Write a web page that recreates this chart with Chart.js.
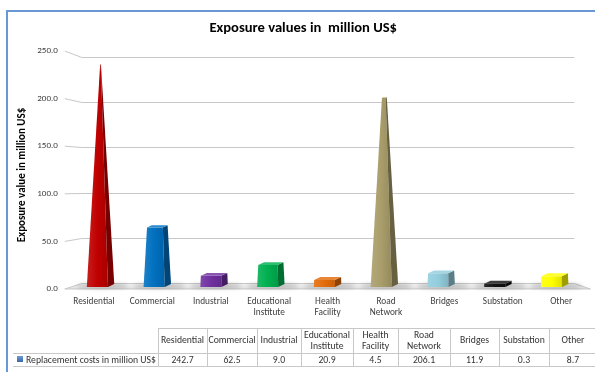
<!DOCTYPE html>
<html><head><meta charset="utf-8">
<script src="https://cdn.jsdelivr.net/npm/chart.js@4/dist/chart.umd.min.js"></script>
<style>html,body{margin:0;padding:0;background:#fff;}canvas{display:block;}</style>
</head><body>
<canvas id="c" width="595" height="372"></canvas>
<script>
// ---------- data ----------
const categories = [['Residential'],['Commercial'],['Industrial'],['Educational','Institute'],['Health','Facility'],['Road','Network'],['Bridges'],['Substation'],['Other']];
const replacementCosts = [242.7, 62.5, 9.0, 20.9, 4.5, 206.1, 11.9, 0.3, 8.7];
const yTickValues = [0, 50, 100, 150, 200, 250];
const seriesName = 'Replacement costs in million US$';
const chartTitle = 'Exposure values in  million US$';
const yAxisTitle = 'Exposure value in million US$';

// ---------- style ----------
const barColors = ['#c00000','#0070c0','#7030a0','#00b050','#e46c0a','#a99d6a','#93cddd','#111111','#ffff00'];
const FONT = "Carlito, Calibri, Lato, 'Open Sans', sans-serif";
const TEXT = '#404040';
const GRID = '#c8c8c8';
const PERSP = 0.972;          // x compression of the back plane
const WALL_DX = 17;           // depth offset of side wall
const LABEL_STRETCH = 238/226;
const TABLE_EDGES = [158,207,257,301,353,398,450,499,549,597];

function rgb(hex){const n=parseInt(hex.slice(1),16);return [n>>16&255,n>>8&255,n&255];}
function shade(hex,f){let [r,g,b]=rgb(hex);
  if(f<=1){r*=f;g*=f;b*=f;}else{const t=f-1;r+=(255-r)*t;g+=(255-g)*t;b+=(255-b)*t;}
  return `rgb(${r|0},${g|0},${b|0})`;}

const scene3d = {
  id:'scene3d',
  beforeDraw(chart){
    const {ctx,width,height}=chart;
    ctx.save();ctx.fillStyle='#fff';ctx.fillRect(0,0,width,height);ctx.restore();
  },
  beforeDatasetsDraw(chart){
    const {ctx, chartArea:ca, scales:{x,y}} = chart;
    const y0 = y.getPixelForValue(0);
    const lblY = v => ca.top - 6 + (y.getPixelForValue(v) - ca.top) * LABEL_STRETCH;
    const wallX = ca.left + WALL_DX, gridEnd = ca.right - 16;
    const front0 = lblY(0);
    ctx.save();
    // floor
    ctx.beginPath();
    ctx.moveTo(ca.left, front0); ctx.lineTo(wallX, y0); ctx.lineTo(gridEnd, y0); ctx.lineTo(ca.right, front0); ctx.closePath();
    const fg = ctx.createLinearGradient(0, y0, 0, front0);
    fg.addColorStop(0,'#f4f4f4'); fg.addColorStop(1,'#e2e2e2');
    ctx.fillStyle = fg; ctx.fill();
    // gridlines
    ctx.strokeStyle = GRID; ctx.lineWidth = 1;
    yTickValues.forEach(v=>{
      const py = Math.round(y.getPixelForValue(v))+0.5;
      ctx.beginPath(); ctx.moveTo(ca.left, lblY(v)); ctx.lineTo(wallX, py); ctx.lineTo(gridEnd, py); ctx.stroke();
    });
    ctx.beginPath(); ctx.moveTo(gridEnd, Math.round(y0)+0.5); ctx.lineTo(ca.right, front0);
    ctx.lineTo(ca.left, front0); ctx.stroke();
    // bars
    const meta = chart.getDatasetMeta(0);
    const cx0 = (ca.left + ca.right)/2;
    const vmax = y.max;
    meta.data.forEach((el,i)=>{
      const xb = cx0 + (el.x - cx0)*PERSP;
      ctx.save(); ctx.filter='blur(2px)';
      ctx.fillStyle='rgba(0,0,0,0.25)';
      ctx.beginPath(); ctx.ellipse(xb+2, front0-3, el.width*0.95, 2.2, 0, 0, Math.PI*2); ctx.fill();
      ctx.restore();
    });
    meta.data.forEach((el,i)=>{
      const v = replacementCosts[i];
      const col = barColors[i];
      const xb = cx0 + (el.x - cx0)*PERSP;
      const hw = el.width/2;
      const s = Math.max(0, 1 - v/vmax);
      const yb = front0 - 2;
      const yt = y.getPixelForValue(v) + 1;
      const fl = 1, fr = 7/13;
      const d = 3;
      const g = ctx.createLinearGradient(xb-hw, 0, xb+hw*fr, 0);
      g.addColorStop(0, shade(col,1.12)); g.addColorStop(0.5, col); g.addColorStop(1, shade(col,0.88));
      ctx.fillStyle = g;
      ctx.beginPath();
      ctx.moveTo(xb-hw*fl, yb); ctx.lineTo(xb+hw*fr, yb);
      ctx.lineTo(xb+hw*fr*s, yt); ctx.lineTo(xb-hw*fl*s, yt); ctx.closePath(); ctx.fill();
      ctx.fillStyle = shade(col,0.62);
      ctx.beginPath();
      ctx.moveTo(xb+hw*fr, yb); ctx.lineTo(xb+hw, yb-d);
      ctx.lineTo(xb+hw*s, yt-d*s); ctx.lineTo(xb+hw*fr*s, yt); ctx.closePath(); ctx.fill();
      if (s > 0.05){
        ctx.fillStyle = shade(col,1.18);
        ctx.beginPath();
        ctx.moveTo(xb-hw*fl*s, yt); ctx.lineTo(xb+hw*fr*s, yt);
        ctx.lineTo(xb+hw*s, yt-d*s); ctx.lineTo(xb-hw*(fl-(1-fr))*s, yt-d*s); ctx.closePath(); ctx.fill();
      }
    });
    ctx.restore();
    return false;
  },
  afterDraw(chart){
    const {ctx, chartArea:ca, scales:{y}} = chart;
    const lblY = v => ca.top - 6 + (y.getPixelForValue(v) - ca.top) * LABEL_STRETCH;
    ctx.save();
    ctx.font = `9px ${FONT}`; ctx.fillStyle = TEXT; ctx.textAlign='right'; ctx.textBaseline='middle';
    yTickValues.forEach(v=>ctx.fillText(v.toFixed(1), ca.left-7, lblY(v)));
    // data table
    const top=328, mid=353, bot=366, left=13;
    ctx.strokeStyle='#c8c8c8'; ctx.lineWidth=1;
    ctx.beginPath();
    const R = TABLE_EDGES[TABLE_EDGES.length-1];
    ctx.moveTo(TABLE_EDGES[0], top+0.5); ctx.lineTo(R, top+0.5);
    ctx.moveTo(left, mid+0.5); ctx.lineTo(R, mid+0.5);
    ctx.moveTo(left, bot+0.5); ctx.lineTo(R, bot+0.5);
    TABLE_EDGES.forEach(xe=>{ctx.moveTo(xe+0.5, top); ctx.lineTo(xe+0.5, bot);});
    ctx.stroke();
    ctx.fillStyle='#333'; ctx.textAlign='center'; ctx.textBaseline='middle'; ctx.font=`9.7px ${FONT}`;
    categories.forEach((lines,i)=>{
      const cx=(TABLE_EDGES[i]+TABLE_EDGES[i+1])/2;
      const cy=(top+mid)/2+0.5;
      lines.forEach((t,k)=>ctx.fillText(t, cx, cy + (k-(lines.length-1)/2)*11.5));
      ctx.fillText(replacementCosts[i].toFixed(1), cx, (mid+bot)/2+1);
    });
    const kg = ctx.createLinearGradient(0,356,0,363);
    kg.addColorStop(0,'#6d9bd6'); kg.addColorStop(1,'#2f5f9e');
    ctx.fillStyle=kg; ctx.fillRect(17,356,6,6);
    ctx.fillStyle='#333'; ctx.textAlign='left';
    ctx.fillText(seriesName, 26, (mid+bot)/2+1);
    // frame
    ctx.strokeStyle='#6a98d4'; ctx.lineWidth=2;
    ctx.strokeRect(7,11,620,420);
    ctx.restore();
  }
};

new Chart(document.getElementById('c'), {
  type:'bar',
  data:{ labels: categories, datasets:[{ label: seriesName, data: replacementCosts, backgroundColor: barColors, categoryPercentage:1, barPercentage:0.47 }]},
  options:{
    responsive:false, animation:false, devicePixelRatio:1,
    layout:{ padding:{left:16,right:4.6,top:0,bottom:0} },
    plugins:{
      legend:{display:false}, tooltip:{enabled:false},
      title:{display:true, text:chartTitle, color:'#000', font:{family:FONT, size:14.6, weight:'bold'}, padding:{top:19.2,bottom:20.3}}
    },
    scales:{
      x:{ grid:{display:false, drawTicks:false}, border:{display:false},
          ticks:{color:TEXT, font:{family:FONT,size:9.3}, padding:13.4, maxRotation:0, autoSkip:false},
          afterFit(s){ s.height = 89; } },
      y:{ min:0, max:250, grid:{display:false, drawTicks:false}, border:{display:false},
          afterBuildTicks(s){ s.ticks = yTickValues.map(v=>({value:v})); },
          ticks:{display:false},
          title:{display:true, text:yAxisTitle + '    ', color:'#000', font:{family:FONT,size:11,weight:'bold'}, padding:{top:0,bottom:0}},
          afterFit(s){ s.width = 48.8; } }
    }
  },
  plugins:[scene3d]
});
</script>
</body></html>
